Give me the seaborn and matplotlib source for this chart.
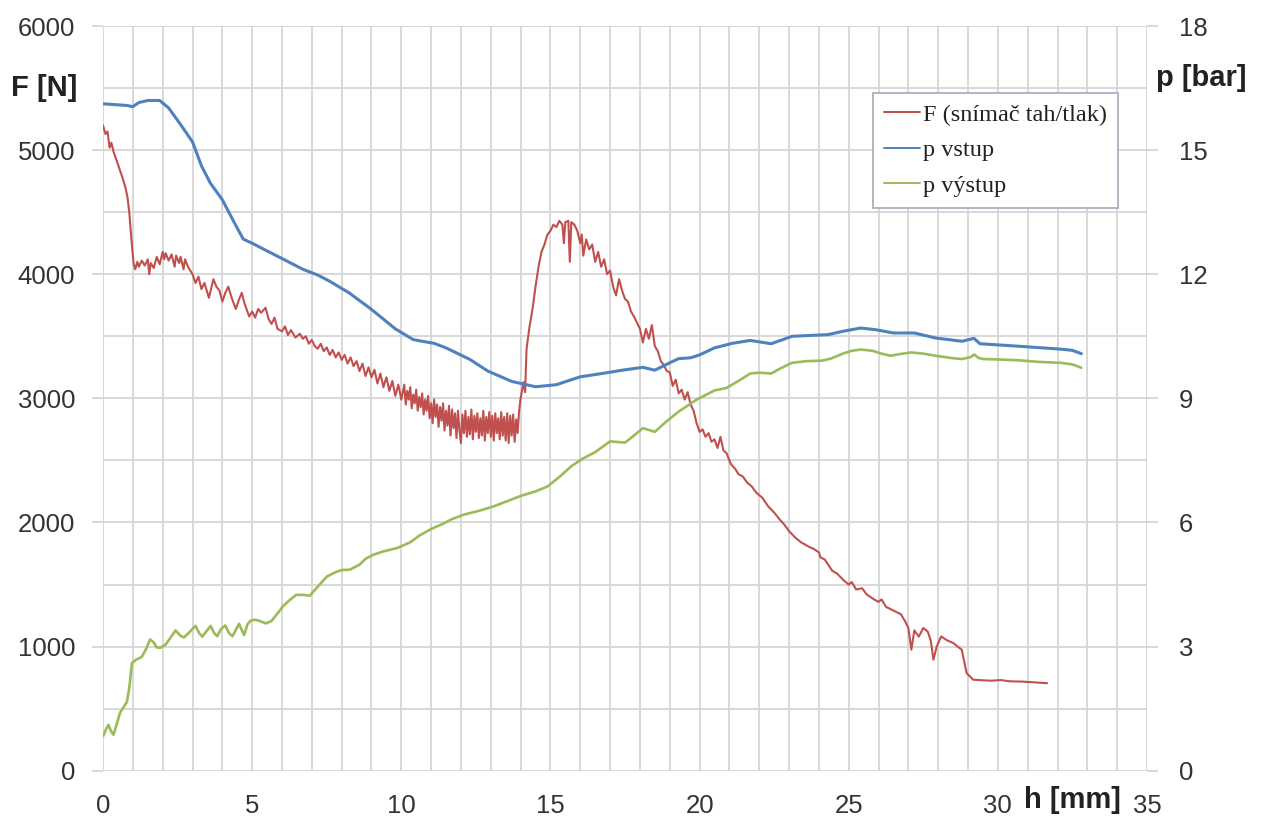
import matplotlib
matplotlib.use("Agg")
import matplotlib.pyplot as plt
from matplotlib.ticker import MultipleLocator
from matplotlib.lines import Line2D
import seaborn as sns

# --- measured data: (stroke h [mm], value) --------------------------------
# Force from the tension/compression load cell, F [N]
force_curve = [
    (0.0, 5200), (0.08, 5130), (0.15, 5150), (0.22, 5020), (0.28, 5060), (0.35, 4990),
    (0.45, 4920), (0.55, 4850), (0.65, 4780), (0.75, 4700), (0.82, 4620), (0.88, 4500),
    (0.93, 4350), (0.98, 4200), (1.03, 4080), (1.08, 4040),
    (1.15, 4100), (1.2, 4060), (1.3, 4110), (1.4, 4070), (1.5, 4120), (1.55, 4000),
    (1.6, 4090), (1.7, 4050), (1.8, 4140), (1.9, 4080), (2.0, 4180), (2.05, 4120),
    (2.1, 4170), (2.2, 4110), (2.3, 4160), (2.4, 4060), (2.45, 4150), (2.55, 4090),
    (2.6, 4140), (2.7, 4040), (2.75, 4120), (2.85, 4060), (2.95, 4020),
    (3.0, 4000), (3.1, 3930), (3.2, 3980), (3.3, 3880), (3.4, 3930), (3.55, 3810),
    (3.7, 3960), (3.8, 3900), (3.9, 3870), (4.0, 3780), (4.1, 3850), (4.2, 3900),
    (4.3, 3820), (4.45, 3720), (4.55, 3790), (4.65, 3850), (4.75, 3760), (4.9, 3660),
    (5.0, 3700), (5.1, 3650), (5.2, 3720), (5.3, 3690), (5.45, 3730), (5.55, 3640),
    (5.65, 3600), (5.75, 3650), (5.85, 3560), (6.0, 3540), (6.1, 3580), (6.2, 3510),
    (6.3, 3550), (6.45, 3490), (6.6, 3520), (6.7, 3480), (6.8, 3500), (6.9, 3440),
    (7.0, 3470), (7.1, 3420), (7.2, 3400), (7.3, 3440), (7.4, 3380), (7.5, 3410),
    (7.6, 3350), (7.7, 3390), (7.8, 3330), (7.9, 3370), (8.0, 3310), (8.1, 3350),
    (8.2, 3280), (8.3, 3330), (8.4, 3260), (8.5, 3300), (8.6, 3220), (8.7, 3280),
    (8.8, 3180), (8.9, 3250), (9.0, 3170), (9.1, 3230), (9.2, 3120), (9.3, 3200),
    (9.4, 3090), (9.5, 3170), (9.6, 3060), (9.7, 3140), (9.8, 3020), (9.9, 3110),
    (10.0, 2990), (10.05, 3050), (10.1, 3110), (10.15, 2950), (10.2, 3060), (10.25, 2990),
    (10.3, 3090), (10.35, 2920), (10.4, 3030), (10.45, 2960), (10.5, 3070), (10.55, 2900),
    (10.6, 3010), (10.65, 2930), (10.7, 3040), (10.75, 2870), (10.8, 2990), (10.85, 2900),
    (10.9, 3020), (10.95, 2840), (11.0, 2960), (11.05, 2800), (11.1, 2990), (11.15, 2850),
    (11.2, 2950), (11.25, 2770), (11.3, 2930), (11.35, 2820), (11.4, 2960), (11.45, 2740),
    (11.5, 2900), (11.55, 2780), (11.6, 2940), (11.65, 2700), (11.7, 2910), (11.75, 2760),
    (11.8, 2880), (11.85, 2680), (11.9, 2900), (11.95, 2740), (12.0, 2640), (12.05, 2870),
    (12.1, 2720), (12.15, 2900), (12.2, 2690), (12.25, 2850), (12.3, 2710), (12.35, 2910),
    (12.4, 2670), (12.45, 2860), (12.5, 2730), (12.55, 2880), (12.6, 2680), (12.65, 2840),
    (12.7, 2700), (12.75, 2900), (12.8, 2660), (12.85, 2850), (12.9, 2720), (12.95, 2890),
    (13.0, 2690), (13.05, 2860), (13.1, 2660), (13.15, 2880), (13.2, 2720), (13.25, 2840),
    (13.3, 2670), (13.35, 2890), (13.4, 2700), (13.45, 2850), (13.5, 2660), (13.55, 2880),
    (13.6, 2640), (13.65, 2860), (13.7, 2700), (13.75, 2870), (13.8, 2650), (13.85, 2830),
    (13.9, 2720), (13.95, 2900),
    (14.0, 3000), (14.1, 3130), (14.15, 3050), (14.2, 3400), (14.3, 3580), (14.4, 3720),
    (14.5, 3900), (14.6, 4060), (14.7, 4180), (14.8, 4240), (14.9, 4320), (15.0, 4350),
    (15.1, 4400), (15.2, 4380), (15.3, 4430), (15.4, 4400), (15.45, 4250), (15.5, 4420),
    (15.6, 4430), (15.65, 4100), (15.7, 4420), (15.8, 4400), (15.9, 4350), (16.0, 4250),
    (16.05, 4320), (16.1, 4150), (16.2, 4280), (16.3, 4200), (16.4, 4240), (16.5, 4100),
    (16.6, 4180), (16.7, 4060), (16.8, 4120), (16.9, 4000), (17.0, 4030), (17.1, 3900),
    (17.2, 3830), (17.3, 3960), (17.4, 3870), (17.5, 3800), (17.6, 3780), (17.7, 3700),
    (17.8, 3660), (17.9, 3610), (18.0, 3560), (18.1, 3450), (18.2, 3560), (18.3, 3480),
    (18.4, 3590), (18.5, 3420), (18.6, 3380), (18.7, 3300), (18.8, 3270), (18.9, 3220),
    (19.0, 3210), (19.1, 3100), (19.2, 3150), (19.3, 3040), (19.4, 3070), (19.5, 2990),
    (19.6, 3050), (19.7, 2950), (19.8, 2900), (19.9, 2800), (20.0, 2730),
    (20.1, 2750), (20.2, 2690), (20.3, 2720), (20.4, 2650), (20.5, 2670), (20.6, 2600),
    (20.7, 2690), (20.8, 2580), (20.9, 2560), (21.05, 2470), (21.2, 2430), (21.3, 2390),
    (21.45, 2370), (21.6, 2320), (21.75, 2290), (21.9, 2240), (22.1, 2200), (22.3, 2130),
    (22.5, 2080), (22.7, 2020), (22.85, 1980), (23.0, 1930), (23.2, 1880), (23.4, 1840),
    (23.55, 1820), (23.7, 1800), (23.8, 1790), (24.0, 1760), (24.05, 1720), (24.2, 1700),
    (24.45, 1610), (24.6, 1590), (24.85, 1530), (25.0, 1500), (25.1, 1520), (25.25, 1460),
    (25.45, 1470), (25.6, 1420), (25.85, 1380), (26.0, 1360), (26.1, 1380), (26.25, 1320),
    (26.5, 1290), (26.75, 1260), (26.9, 1200), (27.0, 1150), (27.1, 975), (27.2, 1130),
    (27.35, 1080), (27.5, 1150), (27.65, 1120), (27.75, 1050), (27.84, 894), (27.95, 1000),
    (28.1, 1082), (28.3, 1050), (28.5, 1029), (28.65, 1000), (28.79, 975), (28.95, 787),
    (29.17, 733), (29.5, 728), (29.8, 725), (30.1, 730), (30.4, 720), (30.8, 718),
    (31.2, 712), (31.65, 705),
]

# Inlet pressure, p [bar]
p_in_curve = [
    (0.0, 16.12), (0.4, 16.1), (0.8, 16.08), (1.0, 16.05), (1.2, 16.15), (1.5, 16.2),
    (1.9, 16.2), (2.2, 16.02), (2.6, 15.62), (3.0, 15.2), (3.3, 14.62), (3.6, 14.2),
    (4.0, 13.8), (4.4, 13.25), (4.7, 12.85), (5.0, 12.75), (5.4, 12.6), (6.0, 12.38),
    (6.7, 12.12), (7.2, 11.98), (7.6, 11.83), (8.25, 11.55), (9.0, 11.15), (9.8, 10.68),
    (10.4, 10.42), (10.7, 10.38), (11.1, 10.33), (11.5, 10.22), (12.3, 9.94), (12.9, 9.66),
    (13.7, 9.41), (14.5, 9.28), (15.2, 9.33), (15.7, 9.45), (16.0, 9.52), (16.9, 9.62),
    (17.4, 9.68), (18.1, 9.75), (18.5, 9.68), (19.0, 9.86), (19.3, 9.96), (19.7, 9.98),
    (20.0, 10.05), (20.5, 10.22), (21.1, 10.33), (21.7, 10.4), (22.4, 10.32), (23.1, 10.5),
    (24.3, 10.54), (24.8, 10.62), (25.4, 10.7), (25.9, 10.66), (26.5, 10.58), (27.2, 10.58),
    (27.9, 10.46), (28.8, 10.38), (29.2, 10.45), (29.4, 10.32), (30.7, 10.26), (32.1, 10.19),
    (32.5, 10.16), (32.8, 10.08),
]

# Outlet pressure, p [bar]
p_out_curve = [
    (0.0, 0.83), (0.1, 1.0), (0.18, 1.11), (0.27, 0.95), (0.35, 0.87), (0.45, 1.1),
    (0.57, 1.4), (0.7, 1.55), (0.8, 1.66), (0.88, 2.0), (0.97, 2.6), (1.1, 2.68),
    (1.3, 2.75), (1.45, 2.95), (1.58, 3.17), (1.7, 3.1), (1.8, 2.98), (1.92, 2.97),
    (2.1, 3.05), (2.25, 3.2), (2.43, 3.39), (2.6, 3.26), (2.71, 3.22), (2.9, 3.35),
    (3.1, 3.5), (3.22, 3.33), (3.33, 3.24), (3.5, 3.4), (3.61, 3.5), (3.72, 3.33),
    (3.83, 3.25), (3.95, 3.42), (4.1, 3.51), (4.22, 3.33), (4.34, 3.25), (4.45, 3.4),
    (4.56, 3.55), (4.65, 3.4), (4.73, 3.28), (4.85, 3.55), (4.96, 3.63), (5.1, 3.65),
    (5.25, 3.62), (5.46, 3.56), (5.65, 3.62), (5.85, 3.8), (6.03, 3.97), (6.25, 4.12),
    (6.48, 4.25), (6.7, 4.25), (6.93, 4.23), (7.2, 4.45), (7.5, 4.69), (7.8, 4.8),
    (8.0, 4.85), (8.28, 4.86), (8.6, 4.98), (8.8, 5.12), (9.06, 5.22), (9.4, 5.3),
    (9.85, 5.38), (10.3, 5.52), (10.6, 5.68), (10.97, 5.83), (11.4, 5.97), (11.7, 6.08),
    (12.1, 6.19), (12.6, 6.28), (13.1, 6.39), (13.5, 6.5), (14.04, 6.65), (14.5, 6.75),
    (14.9, 6.87), (15.3, 7.1), (15.7, 7.36), (16.1, 7.55), (16.5, 7.7), (17.0, 7.96),
    (17.5, 7.93), (17.8, 8.1), (18.1, 8.28), (18.5, 8.19), (18.9, 8.45), (19.3, 8.68),
    (19.9, 8.97), (20.5, 9.19), (20.9, 9.25), (21.3, 9.42), (21.7, 9.6), (22.0, 9.62),
    (22.4, 9.6), (22.7, 9.72), (23.1, 9.86), (23.6, 9.9), (24.1, 9.91), (24.4, 9.96),
    (24.8, 10.08), (25.1, 10.15), (25.4, 10.18), (25.8, 10.15), (26.1, 10.08), (26.4, 10.03),
    (26.8, 10.08), (27.1, 10.11), (27.5, 10.08), (28.0, 10.02), (28.5, 9.97), (28.8, 9.95),
    (29.1, 10.0), (29.2, 10.06), (29.35, 9.98), (29.5, 9.95), (30.0, 9.94), (30.7, 9.92),
    (31.4, 9.88), (32.1, 9.86), (32.5, 9.82), (32.8, 9.74),
]

series_labels = ["F (snímač tah/tlak)", "p vstup", "p výstup"]
series_colors = ["#C0504D", "#4F81BD", "#9BBB59"]

force_h, force_N = map(list, zip(*force_curve))
p_in_h, p_in_bar = map(list, zip(*p_in_curve))
p_out_h, p_out_bar = map(list, zip(*p_out_curve))

# --- styling ---------------------------------------------------------------
sns.set_theme(style="whitegrid")
plt.rcParams["font.family"] = ["Liberation Sans", "DejaVu Sans"]

grid_color = "#d6d6d6"
text_color = "#333333"
tick_size = 18.5

fig = plt.figure(figsize=(12.75, 8.21), dpi=100)
ax = fig.add_axes([0.0808, 0.0613, 0.8188, 0.907])
ax2 = ax.twinx()

sns.lineplot(x=force_h, y=force_N, ax=ax, color=series_colors[0], linewidth=1.5)
sns.lineplot(x=p_in_h, y=p_in_bar, ax=ax2, color=series_colors[1], linewidth=2.2)
sns.lineplot(x=p_out_h, y=p_out_bar, ax=ax2, color=series_colors[2], linewidth=1.9)

ax.set_xlim(0, 35)
ax.set_ylim(0, 6000)
ax2.set_ylim(0, 18)

ax.xaxis.set_major_locator(MultipleLocator(5))
ax.xaxis.set_minor_locator(MultipleLocator(1))
ax.yaxis.set_major_locator(MultipleLocator(1000))
ax.yaxis.set_minor_locator(MultipleLocator(500))
ax2.yaxis.set_major_locator(MultipleLocator(3))
ax2.yaxis.set_minor_locator(MultipleLocator(1.5))

ax.grid(True, which="both", color=grid_color, linewidth=1.3)
ax2.grid(False)
ax.set_axisbelow(True)

for a in (ax, ax2):
    for s in a.spines.values():
        s.set_visible(False)
    a.set_xlabel("")
    a.set_ylabel("")

ax.tick_params(axis="both", which="major", length=8, width=1.3, color=grid_color,
               labelsize=tick_size, labelcolor=text_color, direction="out")
ax.tick_params(axis="y", which="major", pad=12)
ax.tick_params(axis="x", which="major", pad=9)
ax.tick_params(axis="both", which="minor", length=0)
ax2.tick_params(axis="y", which="major", length=8, width=1.3, color=grid_color,
                labelsize=tick_size, labelcolor=text_color, pad=15, direction="out")
ax2.tick_params(axis="y", which="minor", length=0)

# Axis titles in the Excel-style positions
title_kw = dict(fontsize=21, fontweight="bold", color="#222222", va="center")
fig.text(0.0085, 0.893, "F [N]", ha="left", **title_kw)
fig.text(0.907, 0.905, "p [bar]", ha="left", **title_kw)
fig.text(0.8415, 0.0255, "h [mm]", ha="center", **title_kw)

handles = [Line2D([], [], color=c, linewidth=1.4) for c in series_colors]
leg = ax2.legend(handles, series_labels, loc="upper left",
                 bbox_to_anchor=(0.7375, 0.910), borderaxespad=0,
                 prop={"family": "Liberation Serif", "size": 17.5},
                 handlelength=1.5, handletextpad=0.1, labelspacing=0.55,
                 borderpad=0.45, frameon=True, fancybox=False, framealpha=1)
leg.get_frame().set_edgecolor("#a9b0bf")
leg.get_frame().set_linewidth(1.3)
for t in leg.get_texts():
    t.set_color("#222222")

fig.savefig("out.png", dpi=100)
